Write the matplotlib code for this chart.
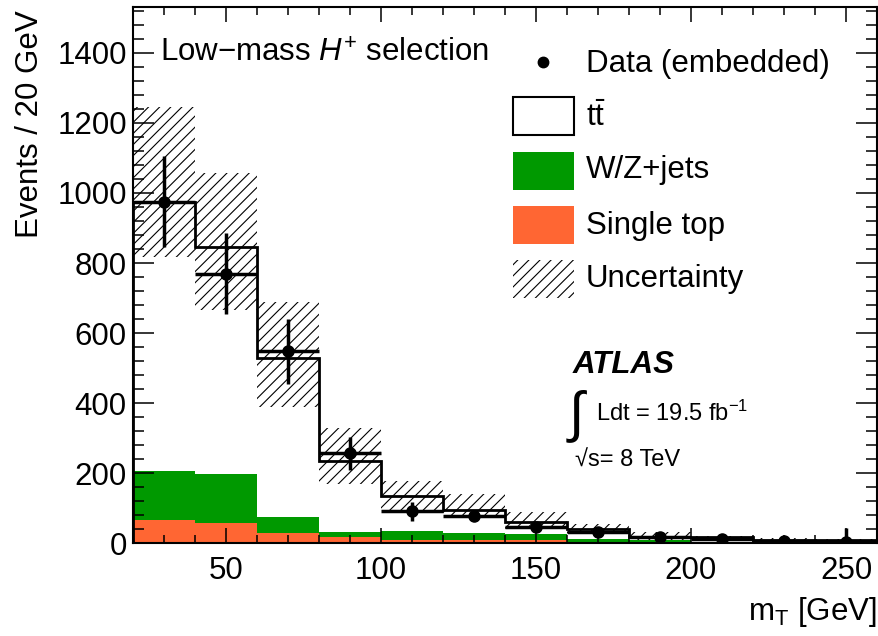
import numpy as np
import matplotlib
matplotlib.use("Agg")
import matplotlib.pyplot as plt
from matplotlib.patches import Rectangle
from matplotlib.lines import Line2D
from matplotlib.ticker import MultipleLocator

plt.rcParams['font.family'] = ['Liberation Sans', 'DejaVu Sans']
plt.rcParams['mathtext.fontset'] = 'custom'
plt.rcParams['mathtext.rm'] = 'Liberation Sans'
plt.rcParams['mathtext.it'] = 'Liberation Sans:italic'
plt.rcParams['mathtext.bf'] = 'Liberation Sans:bold'
plt.rcParams['hatch.linewidth'] = 0.8

# --- data, 20 GeV bins from 20 to 260 ---
bin_edges = np.arange(20, 261, 20)
single_top = np.array([67, 59, 29, 17, 8, 10, 8, 3, 4, 3, 1, 1])
wz_jets = np.array([138, 140, 47, 14, 28, 20, 19, 9, 6, 2, 2, 1])
ttbar = np.array([770, 646, 454, 205, 98, 66, 33, 29, 7, 12, 7, 6])
unc_up = np.array([1245, 1057, 690, 328, 179, 141, 89, 56, 31, 22, 14, 12])
unc_down = np.array([818, 665, 388, 169, 92, 74, 40, 30, 10, 12, 7, 5])
data = np.array([975, 770, 548, 257, 91, 79, 46, 31, 17, 13, 6, 3])
data_err = np.array([130, 115, 92, 47, 27, 10, 15, 10, 8, 6, 5, 40])

legend_labels = ["Data (embedded)", r"$\mathrm{t}\bar{\mathrm{t}}$", "W/Z+jets",
                 "Single top", "Uncertainty"]

GREEN = "#009900"
ORANGE = "#ff6633"
FS = 22.5

centers = 0.5 * (bin_edges[:-1] + bin_edges[1:])
widths = np.diff(bin_edges)
total = single_top + wz_jets + ttbar

fig = plt.figure(figsize=(8.79, 6.36), dpi=100)
ax = fig.add_axes([133 / 879, 1 - 543.3 / 636, 744 / 879, 536 / 636])

# uncertainty band
ax.bar(centers, unc_up - unc_down, bottom=unc_down, width=widths, fill=False,
       hatch="///", edgecolor="black", linewidth=0, zorder=1)
# stacked backgrounds
ax.bar(centers, single_top, width=widths, color=ORANGE, linewidth=0, zorder=1.2)
ax.bar(centers, wz_jets, bottom=single_top, width=widths, color=GREEN,
       linewidth=0, zorder=1.2)
# total (ttbar on top) outline
ax.stairs(total, bin_edges, color="black", linewidth=2.0, zorder=2)
# data
ax.errorbar(centers, data, yerr=data_err, xerr=widths / 2, fmt="o", color="black",
            markersize=8, elinewidth=2.5, capsize=0, zorder=4)

ax.set_xlim(20, 260)
ax.set_ylim(0, 1530)
ax.xaxis.set_major_locator(MultipleLocator(50))
ax.xaxis.set_minor_locator(MultipleLocator(10))
ax.yaxis.set_major_locator(MultipleLocator(200))
ax.yaxis.set_minor_locator(MultipleLocator(40))
ax.set_axisbelow(False)
ax.tick_params(which="both", direction="in", top=True, right=True, width=1.1,
               labelsize=FS)
ax.tick_params(axis="y", which="major", length=15, pad=4.5)
ax.tick_params(axis="y", which="minor", length=8)
ax.tick_params(axis="x", which="major", length=11, pad=9)
ax.tick_params(axis="x", which="minor", length=5.5)
for sp in ax.spines.values():
    sp.set_linewidth(1.5)

ax.text(1.0, -0.143, r"$\mathrm{m}_{\mathrm{T}}$ [GeV]", transform=ax.transAxes,
        ha="right", va="baseline", fontsize=FS)
ax.text(-0.1384, 0.995, "Events / 20 GeV", transform=ax.transAxes, rotation=90,
        ha="center", va="top", fontsize=FS)

ax.text(0.0363, 0.8985, r"Low$-$mass $H^{+}$ selection", transform=ax.transAxes,
        ha="left", va="baseline", fontsize=FS)

# legend drawn by hand to match the ROOT layout
box_x, box_w, box_h = 0.5104, 0.0828, 0.0709
row_y = [0.8985, 0.7976, 0.6951, 0.5938, 0.4931]
base_y = [0.8799, 0.7786, 0.681, 0.577, 0.4787]
text_x = 0.6089
ax.add_line(Line2D([0.5515], [row_y[0]], marker="o", color="black", markersize=7.5,
                   transform=ax.transAxes, zorder=5))
ax.add_patch(Rectangle((box_x, row_y[1] - box_h / 2), box_w, box_h,
                       transform=ax.transAxes, facecolor="white",
                       edgecolor="black", linewidth=1.5, zorder=5))
ax.add_patch(Rectangle((box_x, row_y[2] - box_h / 2), box_w, box_h,
                       transform=ax.transAxes, facecolor=GREEN, linewidth=0, zorder=5))
ax.add_patch(Rectangle((box_x, row_y[3] - box_h / 2), box_w, box_h,
                       transform=ax.transAxes, facecolor=ORANGE, linewidth=0, zorder=5))
ax.add_patch(Rectangle((box_x, row_y[4] - box_h / 2), box_w, box_h,
                       transform=ax.transAxes, fill=False, hatch="///",
                       edgecolor="black", linewidth=0, zorder=5))
for lab, yb in zip(legend_labels, base_y):
    ax.text(text_x, yb, lab, transform=ax.transAxes, ha="left", va="baseline",
            fontsize=FS)

# ATLAS label
ax.text(0.5912, 0.3183, "ATLAS", transform=ax.transAxes, ha="left", va="baseline",
        fontsize=FS, fontweight="bold", fontstyle="italic")
ax.text(0.5954, 0.2375, "\u222b", transform=ax.transAxes, ha="center", va="center",
        fontsize=40)
ax.text(0.6223, 0.2287, r"Ldt = 19.5 fb$^{\mathrm{-1}}$", transform=ax.transAxes,
        ha="left", va="baseline", fontsize=17)
ax.text(0.5937, 0.1429, "\u221as= 8 TeV", transform=ax.transAxes, ha="left",
        va="baseline", fontsize=17)

fig.savefig("out.png", dpi=100)
